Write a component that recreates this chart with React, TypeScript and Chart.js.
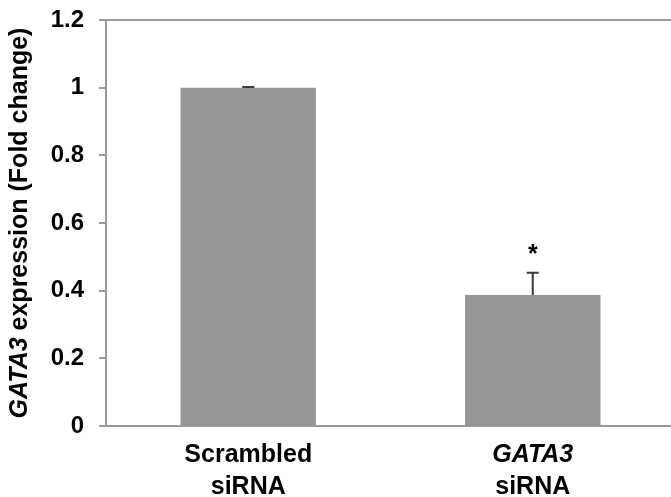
import React, { useEffect, useRef } from "react";
import { Chart, registerables } from "chart.js";

Chart.register(...registerables);

const FONT = "'Liberation Sans', Arial, Helvetica, sans-serif";

// ---- data ----
const categories = ["Scrambled siRNA", "GATA3 siRNA"];
const labelLine1 = ["Scrambled", "GATA3"];
const labelLine1Italic = [false, true];
const labelLine2 = ["siRNA", "siRNA"];
const values = [1.0, 0.387];
const errors = [0.002, 0.066];
const significance = ["", "*"];
const yMin = 0;
const yMax = 1.2;
const yStep = 0.2;
const yTitleItalic = "GATA3";
const yTitleRest = " expression (Fold change)";

const BAR_COLOR = "#969696";
const AXIS_COLOR = "#9a9a9a";
const ERR_COLOR = "#3a3a3a";

export default function App() {
  const ref = useRef<HTMLCanvasElement>(null);

  useEffect(() => {
    if (!ref.current) return;

    const extras = {
      id: "extras",
      afterDatasetsDraw(chart: any) {
        const ctx = chart.ctx;
        const x = chart.scales.x;
        const y = chart.scales.y;
        ctx.save();
        values.forEach((v, i) => {
          const cx = x.getPixelForValue(i);
          const yBar = y.getPixelForValue(v);
          const yTop = y.getPixelForValue(v + errors[i]);
          ctx.strokeStyle = ERR_COLOR;
          ctx.lineWidth = 2;
          ctx.beginPath();
          ctx.moveTo(cx, yBar);
          ctx.lineTo(cx, yTop);
          ctx.moveTo(cx - 6, yTop);
          ctx.lineTo(cx + 6, yTop);
          ctx.stroke();
          if (significance[i]) {
            ctx.fillStyle = "#000";
            ctx.font = `bold 25px ${FONT}`;
            ctx.textAlign = "center";
            ctx.textBaseline = "alphabetic";
            ctx.fillText(significance[i], cx, yTop - 11);
          }
        });
        ctx.restore();
      },
      afterDraw(chart: any) {
        const ctx = chart.ctx;
        const x = chart.scales.x;
        const area = chart.chartArea;
        ctx.save();
        ctx.fillStyle = "#000";
        ctx.textBaseline = "alphabetic";
        ctx.textAlign = "center";
        categories.forEach((_, i) => {
          const cx = x.getPixelForValue(i);
          ctx.font = `${labelLine1Italic[i] ? "italic " : ""}bold 25px ${FONT}`;
          ctx.fillText(labelLine1[i], cx, area.bottom + 36);
          ctx.font = `bold 25px ${FONT}`;
          ctx.fillText(labelLine2[i], cx, area.bottom + 68);
        });
        // y title (rotated, mixed style)
        const fItal = `italic bold 25px ${FONT}`;
        const fReg = `bold 25px ${FONT}`;
        ctx.font = fItal;
        const w1 = ctx.measureText(yTitleItalic).width;
        ctx.font = fReg;
        const w2 = ctx.measureText(yTitleRest).width;
        const total = w1 + w2;
        const cy = (area.top + area.bottom) / 2;
        ctx.translate(27, cy);
        ctx.rotate(-Math.PI / 2);
        ctx.textAlign = "left";
        ctx.font = fItal;
        ctx.fillText(yTitleItalic, -total / 2, 0);
        ctx.font = fReg;
        ctx.fillText(yTitleRest, -total / 2 + w1, 0);
        ctx.restore();
      },
    };

    const chart = new Chart(ref.current, {
      type: "bar",
      data: {
        labels: categories,
        datasets: [
          {
            data: values,
            backgroundColor: BAR_COLOR,
            borderWidth: 0,
            barPercentage: 0.476,
            categoryPercentage: 1,
          },
        ],
      },
      options: {
        animation: false,
        responsive: false,
        maintainAspectRatio: false,
        layout: { padding: 0 },
        plugins: {
          legend: { display: false },
          tooltip: { enabled: false },
        },
        scales: {
          x: {
            position: "bottom",
            grid: { display: false },
            ticks: { display: false },
            border: { display: true, color: AXIS_COLOR, width: 2 },
            afterFit: (s: any) => {
              s.height = 71;
              s.paddingLeft = 0;
              s.paddingRight = 0;
            },
          },
          xTop: {
            type: "category",
            position: "top",
            grid: { display: false },
            ticks: { display: false },
            border: { display: true, color: AXIS_COLOR, width: 2 },
            afterFit: (s: any) => {
              s.height = 20;
              s.paddingLeft = 0;
              s.paddingRight = 0;
            },
          },
          y: {
            min: yMin,
            max: yMax,
            ticks: {
              stepSize: yStep,
              padding: 15,
              color: "#000",
              font: { family: FONT, size: 24, weight: "bold" },
              callback: (v: any) => String(Math.round(Number(v) * 10) / 10),
            },
            grid: {
              display: true,
              drawOnChartArea: false,
              drawTicks: true,
              tickLength: 7,
              color: AXIS_COLOR,
              lineWidth: 2,
            },
            border: { display: true, color: AXIS_COLOR, width: 2 },
            afterFit: (s: any) => {
              s.width = 106;
              s.paddingTop = 0;
              s.paddingBottom = 0;
            },
          },
        },
      },
      plugins: [extras],
    } as any);

    return () => chart.destroy();
  }, []);

  return (
    <div
      style={{
        position: "fixed",
        left: 0,
        top: 0,
        width: 671,
        height: 497,
        overflow: "hidden",
        background: "#fff",
      }}
    >
      <canvas ref={ref} width={675} height={497} style={{ display: "block" }} />
    </div>
  );
}
